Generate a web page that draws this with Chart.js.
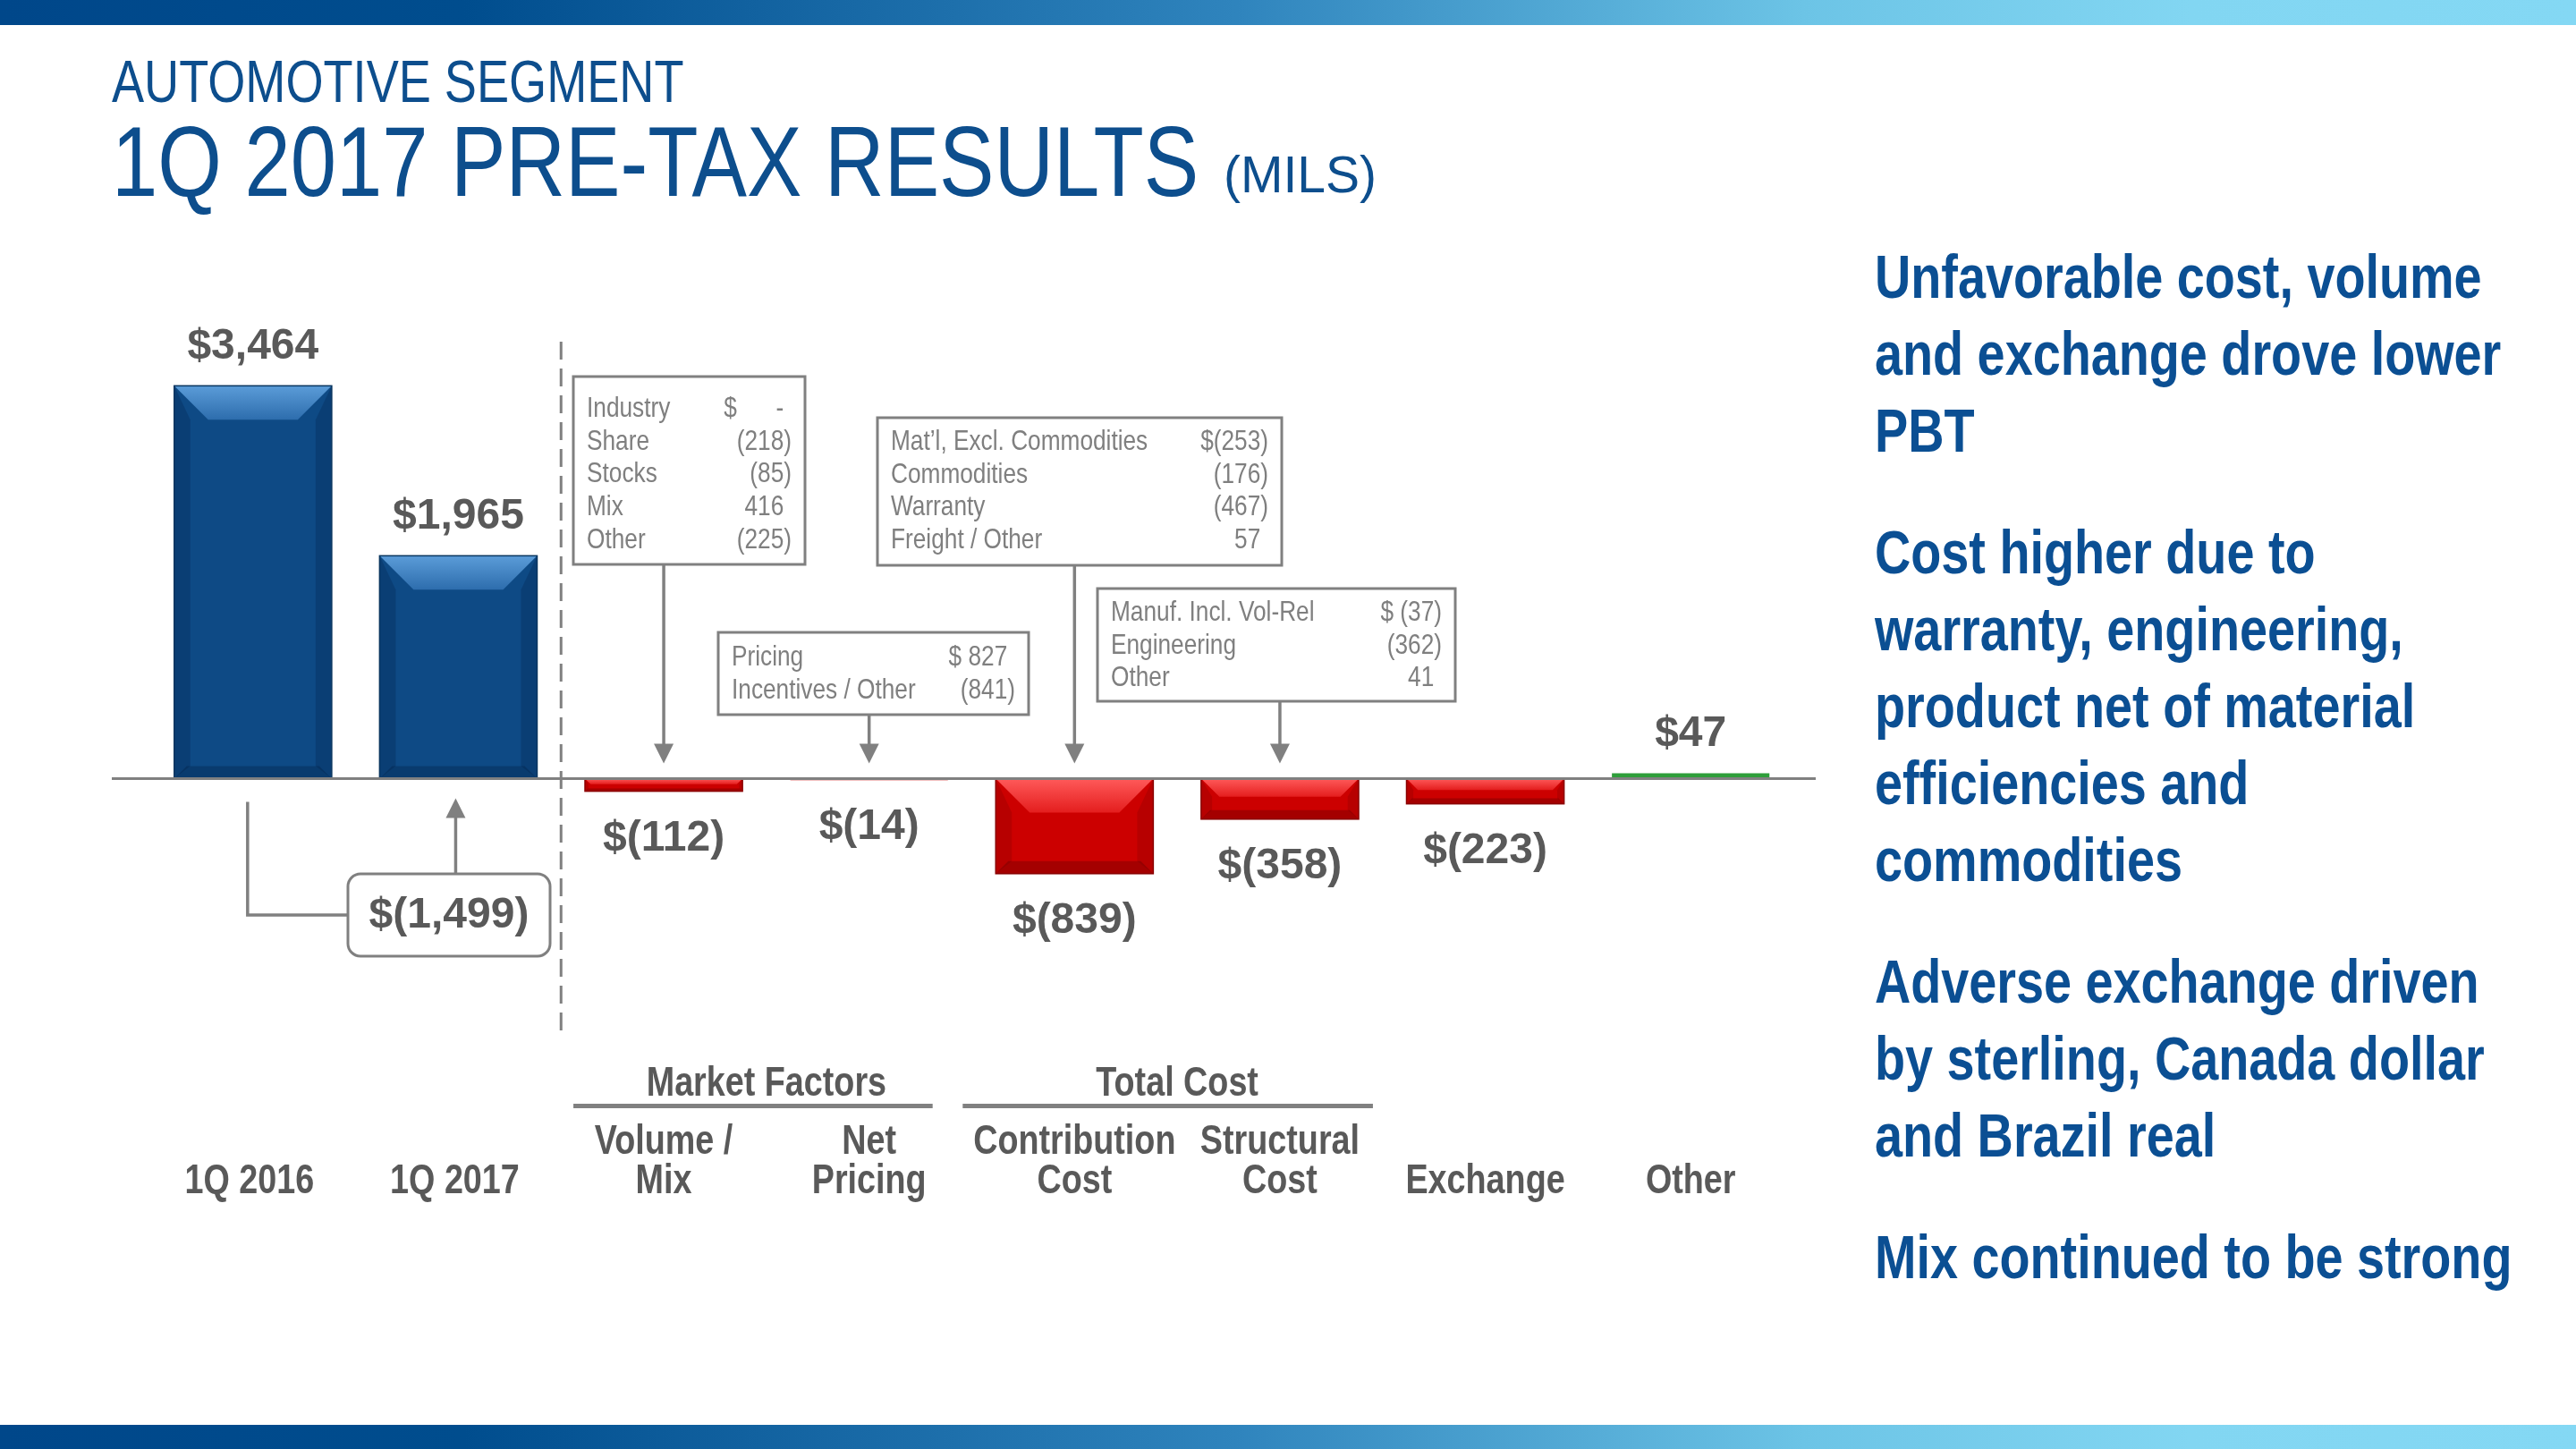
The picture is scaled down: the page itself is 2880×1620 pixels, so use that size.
<!DOCTYPE html>
<html>
<head>
<meta charset="utf-8">
<script src="https://cdn.jsdelivr.net/npm/chart.js"></script>
<style>
  html, body { margin: 0; padding: 0; background: #fff; }
  #page { position: relative; width: 2880px; height: 1620px; overflow: hidden;
          font-family: 'Liberation Sans', Arial, sans-serif; }
  .band { position: absolute; left: 0; width: 2880px;
          background: linear-gradient(90deg, #00478a 0%, #004d8e 18%, #2f84bd 48%, #6cc4e6 70%, #82d6f2 85%, #84d8f4 100%); }
  #topband { top: 0; height: 28px; }
  #bottomband { top: 1593px; height: 27px; }
  .squeeze { transform: scaleX(0.82); transform-origin: 0 0; }
  #kicker { position: absolute; left: 125px; top: 58px; font-size: 66px; line-height: 1; color: #0d4e8d; white-space: nowrap; }
  #title { position: absolute; left: 125px; top: 126px; font-size: 111px; line-height: 1; color: #0d4e8d; white-space: nowrap;
           transform: scaleX(0.83); }
  #mils { position: absolute; left: 1368px; top: 167px; font-size: 57px; line-height: 1; color: #0d4e8d; white-space: nowrap; }
  #chart { position: absolute; left: 0; top: 0; }
  #notes { position: absolute; left: 2096px; top: 266px; color: #0b4f93; font-weight: bold;
           font-size: 68px; line-height: 86px; white-space: nowrap; }
  #notes p { margin: 0 0 50px 0; }
</style>
</head>
<body>
<div id="page">
  <div class="band" id="topband"></div>
  <div id="kicker" class="squeeze">AUTOMOTIVE SEGMENT</div>
  <div id="title" class="squeeze">1Q 2017 PRE-TAX RESULTS</div>
  <div id="mils">(MILS)</div>
  <canvas id="chart" width="2880" height="1620"></canvas>
  <div id="notes" class="squeeze">
    <p>Unfavorable cost, volume<br>and exchange drove lower<br>PBT</p>
    <p>Cost higher due to<br>warranty, engineering,<br>product net of material<br>efficiencies and<br>commodities</p>
    <p>Adverse exchange driven<br>by sterling, Canada dollar<br>and Brazil real</p>
    <p>Mix continued to be strong</p>
  </div>
  <div class="band" id="bottomband"></div>
</div>

<script>
// chart data
const categories = ['1Q 2016', '1Q 2017', ['Volume /', 'Mix'], ['Net', 'Pricing'],
                    ['Contribution', 'Cost'], ['Structural', 'Cost'], 'Exchange', 'Other'];
const pbtValues = [3464, 1965, -112, -14, -839, -358, -223, 47];
const totalCount = 2;            // first two bars are the period totals
const changeLabel = '$(1,499)';  // 1Q 2017 vs 1Q 2016

const groupNames = ['Market Factors', 'Total Cost'];
const groupSpans = [[2, 3], [4, 5]];

// callout details
const mixLabels = ['Industry', 'Share', 'Stocks', 'Mix', 'Other'];
const mixValues = ['$      -', '(218)', '(85)', '416', '(225)'];
const pricingLabels = ['Pricing', 'Incentives / Other'];
const pricingValues = ['$ 827', '(841)'];
const contribLabels = ['Mat\u2019l, Excl. Commodities', 'Commodities', 'Warranty', 'Freight / Other'];
const contribValues = ['$(253)', '(176)', '(467)', '57'];
const structLabels = ['Manuf. Incl. Vol-Rel', 'Engineering', 'Other'];
const structValues = ['$ (37)', '(362)', '41'];

const FAMILY = "'Liberation Sans', Arial, sans-serif";
const BOLDFONT = 'bold 48px ' + FAMILY;
const SQ = 0.82;   // horizontal squeeze to imitate the condensed face
const GREY = '#808080';
const DARK = '#595959';

function money(v) {
    const s = Math.abs(v).toLocaleString('en-US');
    return v < 0 ? '$(' + s + ')' : '$' + s;
}

function narrowText(ctx, text, x, y, align) {
    ctx.save();
    ctx.translate(x, y);
    ctx.scale(SQ, 1);
    ctx.textAlign = align;
    ctx.fillText(text, 0, 0);
    ctx.restore();
}

function poly(ctx, pts) {
    ctx.beginPath();
    ctx.moveTo(pts[0][0], pts[0][1]);
    for (let k = 1; k < pts.length; k++) ctx.lineTo(pts[k][0], pts[k][1]);
    ctx.closePath();
    ctx.fill();
}

function arrow(ctx, x, yFrom, yTo) {
    const dir = yTo > yFrom ? 1 : -1;
    ctx.beginPath();
    ctx.moveTo(x, yFrom);
    ctx.lineTo(x, yTo - dir * 20);
    ctx.stroke();
    ctx.beginPath();
    ctx.moveTo(x, yTo);
    ctx.lineTo(x - 11, yTo - dir * 22);
    ctx.lineTo(x + 11, yTo - dir * 22);
    ctx.closePath();
    ctx.fill();
}

// bevelled look of the bars
const bevelPlugin = {
    id: 'bevel',
    afterDatasetsDraw(chart) {
        const ctx = chart.ctx;
        chart.getDatasetMeta(0).data.forEach((bar, i) => {
            const p = bar.getProps(['x', 'y', 'base', 'width'], true);
            const L = p.x - p.width / 2, R = p.x + p.width / 2;
            const T = Math.min(p.y, p.base), B = Math.max(p.y, p.base);
            const h = B - T;
            if (h < 8 || pbtValues[i] > 0 && i >= totalCount) return;
            const blue = i < totalCount;
            const b = Math.min(38, h * 0.45), d = Math.min(14, h * 0.22), s = Math.min(18, b * 0.6);
            ctx.save();
            ctx.fillStyle = blue ? 'rgba(0,25,60,0.22)' : 'rgba(90,0,0,0.18)';
            poly(ctx, [[L, T], [L + s, T + b], [L + s, B - d], [L, B]]);
            poly(ctx, [[R, T], [R - s, T + b], [R - s, B - d], [R, B]]);
            ctx.fillStyle = blue ? 'rgba(0,25,60,0.3)' : 'rgba(90,0,0,0.35)';
            poly(ctx, [[L, B], [R, B], [R - d, B - d], [L + d, B - d]]);
            const g = ctx.createLinearGradient(0, T, 0, T + b);
            g.addColorStop(0, blue ? '#5b9cd8' : '#ff5a5a');
            g.addColorStop(1, blue ? '#2d6dad' : '#e41e1e');
            ctx.fillStyle = g;
            poly(ctx, [[L, T], [R, T], [R - b, T + b], [L + b, T + b]]);
            ctx.strokeStyle = blue ? '#08355f' : '#8a0000';
            ctx.lineWidth = 1.5;
            ctx.strokeRect(L, T, p.width, h);
            ctx.restore();
        });
    }
};

// axis line, separator, category labels, value labels, callouts
const marksPlugin = {
    id: 'marks',
    afterDatasetsDraw(chart) {
        const ctx = chart.ctx;
        const xs = chart.scales.x, ys = chart.scales.y;
        const zero = ys.getPixelForValue(0);
        ctx.save();

        // zero line
        ctx.strokeStyle = GREY;
        ctx.lineWidth = 3;
        ctx.beginPath();
        ctx.moveTo(125, zero);
        ctx.lineTo(2030, zero);
        ctx.stroke();

        // dashed separator between totals and drivers
        const sepX = (xs.getPixelForValue(totalCount - 1) + xs.getPixelForValue(totalCount)) / 2;
        ctx.setLineDash([20, 10]);
        ctx.beginPath();
        ctx.moveTo(sepX, 382);
        ctx.lineTo(sepX, 1157);
        ctx.stroke();
        ctx.setLineDash([]);

        // category labels, bottom aligned
        ctx.font = 'bold 46px ' + FAMILY;
        ctx.fillStyle = DARK;
        ctx.textBaseline = 'middle';
        xs.getLabels().forEach((lab, i) => {
            const lines = Array.isArray(lab) ? lab : [lab];
            const x = xs.getPixelForValue(i) - (lines.length === 1 && i < totalCount ? 4 : 0);
            lines.forEach((t, k) => narrowText(ctx, t, x, 1321 - (lines.length - 1 - k) * 44, 'center'));
        });

        // group headers
        const lineExt = [[-101, 71], [-125, 104]];
        groupNames.forEach((name, g) => {
            const a = xs.getPixelForValue(groupSpans[g][0]);
            const b = xs.getPixelForValue(groupSpans[g][1]);
            ctx.fillStyle = DARK;
            narrowText(ctx, name, (a + b) / 2, 1212, 'center');
            ctx.fillStyle = GREY;
            ctx.fillRect(a + lineExt[g][0], 1234, b + lineExt[g][1] - a - lineExt[g][0], 5);
        });

        // value labels
        ctx.font = BOLDFONT;
        ctx.fillStyle = DARK;
        ctx.textAlign = 'center';
        chart.getDatasetMeta(0).data.forEach((bar, i) => {
            const v = pbtValues[i];
            ctx.fillText(money(v), bar.x, v >= 0 ? bar.y - 44 : bar.y + 53);
        });

        // callout boxes with arrows down to their bar
        const boxes = [
            [2, mixLabels, mixValues, 641, 421, 259, 210, 457],
            [3, pricingLabels, pricingValues, 803, 707, 347, 92, 735],
            [4, contribLabels, contribValues, 981, 467, 452, 165, 494],
            [5, structLabels, structValues, 1227, 658, 400, 126, 685]
        ];
        ctx.font = '32px ' + FAMILY;
        const pad = ctx.measureText(')').width * SQ;
        boxes.forEach(([cat, labels, values, left, top, w, h, first]) => {
            ctx.fillStyle = '#fff';
            ctx.fillRect(left, top, w, h);
            ctx.strokeStyle = GREY;
            ctx.lineWidth = 3;
            ctx.strokeRect(left, top, w, h);
            ctx.fillStyle = '#7f7f7f';
            labels.forEach((t, k) => {
                const y = first + k * 36.7;
                narrowText(ctx, t, left + 15, y, 'left');
                const val = values[k];
                narrowText(ctx, val, left + w - 15 - (val.endsWith(')') ? 0 : pad), y, 'right');
            });
            ctx.fillStyle = GREY;
            ctx.lineWidth = 3.5;
            arrow(ctx, xs.getPixelForValue(cat), top + h, zero - 17);
        });

        // change from 1Q 2016 to 1Q 2017
        const x0 = xs.getPixelForValue(0) - 6, x1 = xs.getPixelForValue(1) - 3;
        const bL = 389, bT = 977, bW = 226, bH = 92;
        ctx.strokeStyle = GREY;
        ctx.fillStyle = GREY;
        ctx.lineWidth = 3.5;
        ctx.beginPath();
        ctx.moveTo(x0, zero + 26);
        ctx.lineTo(x0, bT + bH / 2);
        ctx.lineTo(bL, bT + bH / 2);
        ctx.stroke();
        arrow(ctx, x1, bT, zero + 22);
        ctx.fillStyle = '#fff';
        ctx.lineWidth = 3;
        ctx.beginPath();
        ctx.roundRect(bL, bT, bW, bH, 14);
        ctx.fill();
        ctx.stroke();
        ctx.font = BOLDFONT;
        ctx.fillStyle = DARK;
        ctx.textAlign = 'center';
        ctx.fillText(changeLabel, bL + bW / 2, bT + bH / 2 + 1);
        ctx.restore();
    }
};

const ctx = document.getElementById('chart').getContext('2d');
new Chart(ctx, {
    type: 'bar',
    data: {
        labels: categories,
        datasets: [{
            data: pbtValues,
            backgroundColor: c => c.dataIndex < totalCount ? '#0e4a85'
                : (pbtValues[c.dataIndex] < 0 ? '#cc0000' : '#2e9e3a'),
            borderWidth: 0,
            barPercentage: 0.767,
            categoryPercentage: 1
        }]
    },
    options: {
        responsive: false,
        animation: false,
        devicePixelRatio: 1,
        layout: { padding: { left: 168, right: 875, top: 300, bottom: 420 } },
        plugins: { legend: { display: false }, tooltip: { enabled: false } },
        scales: {
            x: {
                grid: { display: false },
                border: { display: false },
                ticks: { display: false },
                afterFit: s => { s.height = 0; }
            },
            y: { display: false, min: -2600, max: 4500 }
        }
    },
    plugins: [bevelPlugin, marksPlugin]
});
</script>
</body>
</html>
